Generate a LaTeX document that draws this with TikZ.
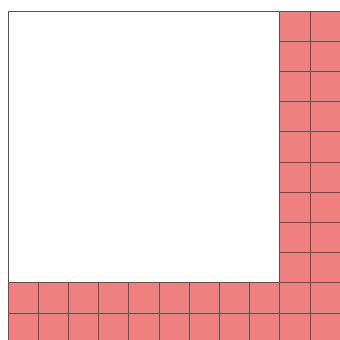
\documentclass[tikz,border=0pt]{standalone}
\usepackage{tikz}
\definecolor{cellred}{RGB}{240,128,128}
\definecolor{gridgray}{RGB}{85,85,85}
\tikzset{cell/.style={fill=cellred, draw=gridgray}}

\begin{document}
\begin{tikzpicture}[line width=0.8pt]
    % 图幅边界
    \useasboundingbox (-0.265,0.106) rectangle (10.96,11.364);

    % 白色大正方形 (9x9)
    \draw[gridgray, fill=white] (0,2) rectangle (9,11);

    % 右侧两列小方格
    \foreach \i in {9,10}
        \foreach \j in {2,...,10}
            \draw[cell] (\i,\j) rectangle ++(1,1);

    % 底部两行小方格
    \foreach \i in {0,...,10}
        \foreach \j in {0,1}
            \draw[cell] (\i,\j) rectangle ++(1,1);
\end{tikzpicture}
\end{document}
